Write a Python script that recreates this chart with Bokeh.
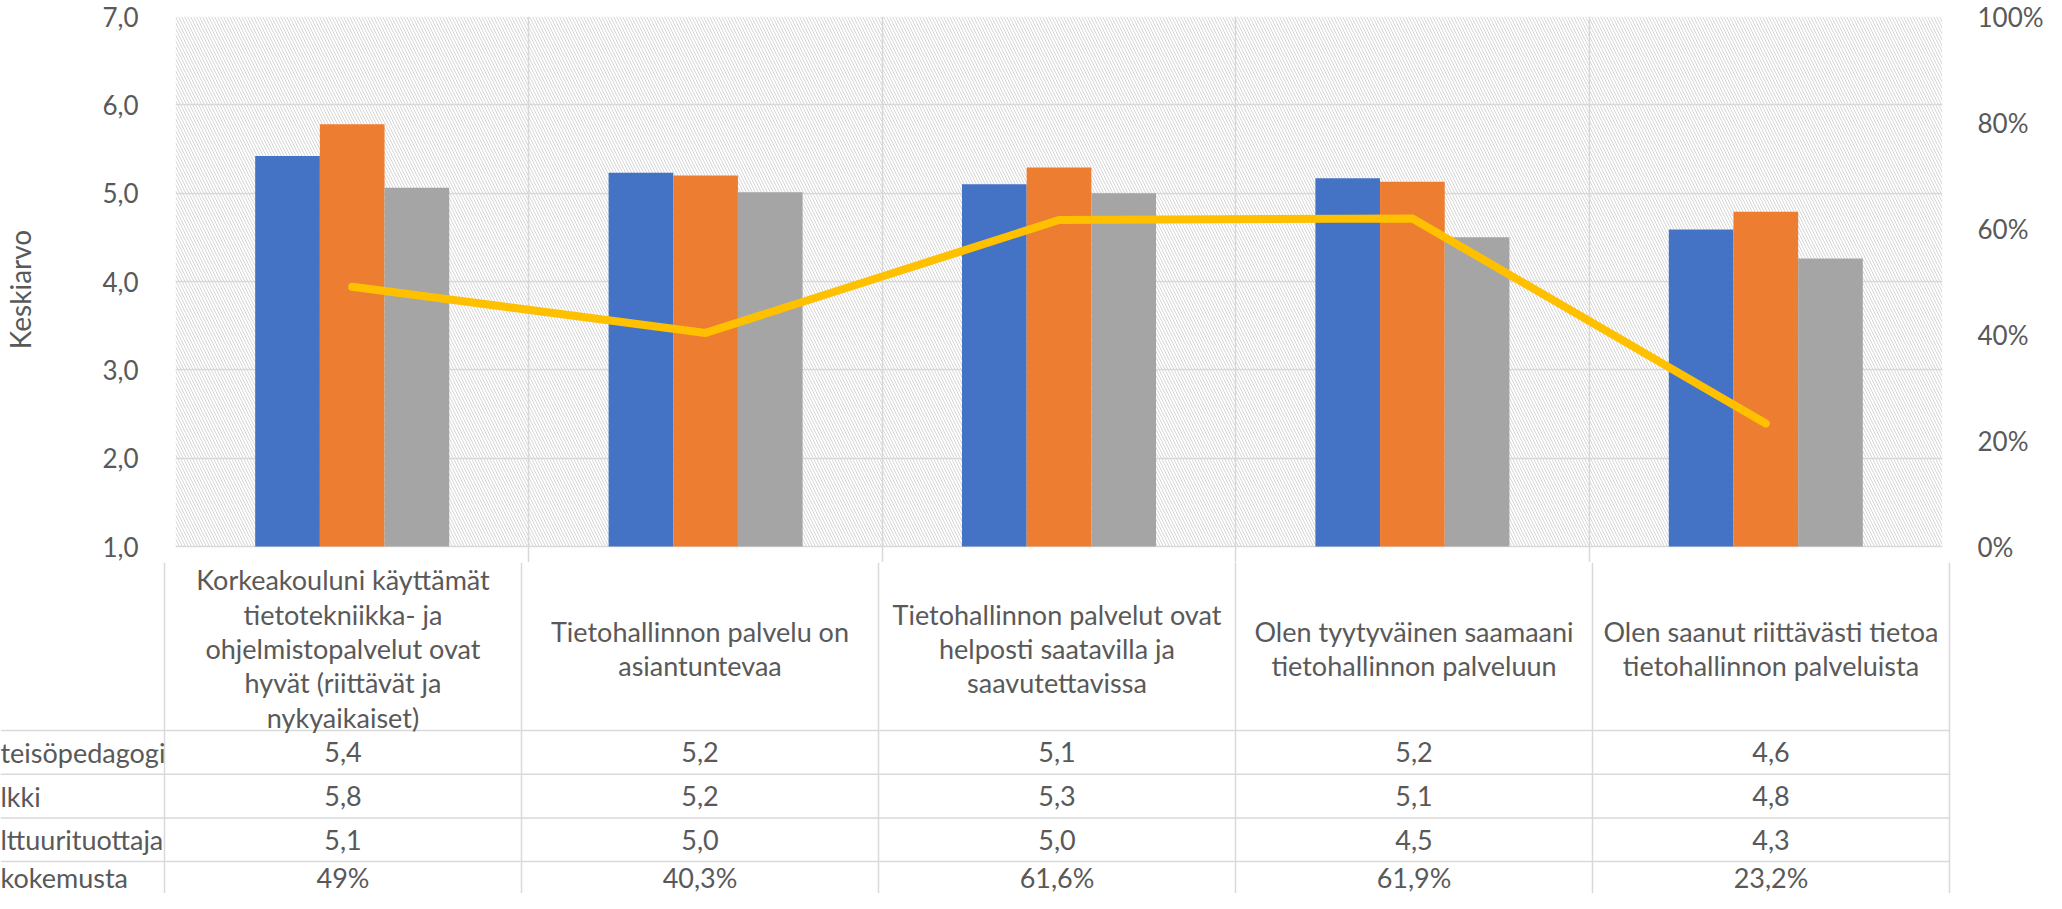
from bokeh.plotting import figure
from bokeh.models import Range1d, LinearAxis, FixedTicker, CustomJSTickFormatter, ColumnDataSource
from bokeh.layouts import column
from bokeh.core.properties import value
from bokeh.embed import file_html
from bokeh.resources import INLINE

# ---------------- data ----------------
categories = [
    "Korkeakouluni käyttämät\ntietotekniikka- ja\nohjelmistopalvelut ovat\nhyvät (riittävät ja\nnykyaikaiset)",
    "Tietohallinnon palvelu on\nasiantuntevaa",
    "Tietohallinnon palvelut ovat\nhelposti saatavilla ja\nsaavutettavissa",
    "Olen tyytyväinen saamaani\ntietohallinnon palveluun",
    "Olen saanut riittävästi tietoa\ntietohallinnon palveluista",
]
row_labels = ["teisöpedagogi", "lkki", "lttuurituottaja", "kokemusta"]
series1 = [5.42, 5.23, 5.10, 5.17, 4.59]
series2 = [5.78, 5.20, 5.29, 5.13, 4.79]
series3 = [5.06, 5.01, 5.00, 4.50, 4.26]
share = [0.49, 0.403, 0.616, 0.619, 0.232]
left_ticks = [1, 2, 3, 4, 5, 6, 7]
right_ticks = [0, 0.2, 0.4, 0.6, 0.8, 1.0]

colors = ["#4472C4", "#ED7D31", "#A5A5A5"]
line_color = "#FFC000"
grid_color = "#D9D9D9"
text_color = "#595959"
FONT = "Lato"

# ---------------- layout constants (px) ----------------
W = 2046
FRAME_L, FRAME_R = 164, 97
TOP_B = 16
PLOT_H = 530                    # height of the 1..7 value area
BAND = 16                       # strip below the 1,0 line kept in the top figure
TOP_H = TOP_B + PLOT_H + BAND
TABLE_H = 893 - TOP_H
HEADER_H = 184
ROW_H = 43.7

n = len(categories)
frame_w = W - FRAME_L - FRAME_R
ppu_x = frame_w / n
ppu_y = PLOT_H / (left_ticks[-1] - left_ticks[0])

def fmt1(v):
    return f"{v:.1f}".replace(".", ",")

def fmtp(v):
    p = round(v * 100, 1)
    if abs(p - round(p)) < 1e-9:
        return f"{int(round(p))}%"
    return f"{p:.1f}".replace(".", ",") + "%"

# ---------------- top chart ----------------
p = figure(width=W, height=TOP_H, output_backend="svg", toolbar_location=None,
           x_axis_location=None, frame_align=False,
           x_range=Range1d(0, n),
           y_range=Range1d(left_ticks[0] - BAND / ppu_y, left_ticks[-1]),
           min_border_left=FRAME_L, min_border_right=FRAME_R,
           min_border_top=TOP_B, min_border_bottom=0)
p.outline_line_color = None
p.background_fill_color = "white"
p.border_fill_color = "white"
p.extra_y_ranges = {"pct": Range1d(-BAND / PLOT_H, 1.0)}

p.quad(left=[0], right=[n], bottom=[left_ticks[0]], top=[left_ticks[-1]],
       fill_color=None, line_color=None,
       hatch_pattern="left_diagonal_line", hatch_color="#D6D6D6",
       hatch_scale=6, hatch_weight=1)

p.ygrid.ticker = FixedTicker(ticks=left_ticks)
p.ygrid.grid_line_color = grid_color
p.ygrid.grid_line_width = 1.5
p.xgrid.ticker = FixedTicker(ticks=list(range(n + 1)))
p.xgrid.grid_line_color = grid_color
p.xgrid.grid_line_width = 1.5

bw = 0.183
offsets = [-bw, 0.0, bw]
for vals, off, c in zip([series1, series2, series3], offsets, colors):
    src = ColumnDataSource(dict(x=[i + 0.5 + off for i in range(n)], top=vals))
    p.vbar(x="x", top="top", bottom=left_ticks[0], width=bw, source=src,
           fill_color=c, line_color=None)

p.line(x=[i + 0.5 for i in range(n)], y=share, y_range_name="pct",
       line_color=line_color, line_width=8, line_cap="round", line_join="round")

ya = p.yaxis[0]
ya.ticker = FixedTicker(ticks=left_ticks)
ya.formatter = CustomJSTickFormatter(code="return tick.toFixed(1).replace('.', ',');")
ya.axis_line_color = None
ya.major_tick_line_color = None
ya.minor_tick_line_color = None
ya.major_label_standoff = 31
ya.major_label_text_font = FONT
ya.major_label_text_font_size = "26px"
ya.major_label_text_color = text_color
ya.axis_label = "Keskiarvo"
ya.axis_label_text_font = FONT
ya.axis_label_text_font_size = "28px"
ya.axis_label_text_font_style = "normal"
ya.axis_label_text_color = text_color
ya.axis_label_standoff = 62

ra = LinearAxis(y_range_name="pct")
ra.ticker = FixedTicker(ticks=right_ticks)
ra.formatter = CustomJSTickFormatter(code="return Math.round(tick*100) + '%';")
ra.axis_line_color = None
ra.major_tick_line_color = None
ra.minor_tick_line_color = None
ra.major_label_standoff = 29
ra.major_label_text_font = FONT
ra.major_label_text_font_size = "26px"
ra.major_label_text_color = text_color
p.add_layout(ra, "right")

# ---------------- data table ----------------
x0 = -FRAME_L / ppu_x
x1 = n + FRAME_R / ppu_x
t = figure(width=W, height=TABLE_H, output_backend="svg", toolbar_location=None,
           x_axis_location=None, y_axis_location=None, frame_align=False,
           x_range=Range1d(x0, x1),
           y_range=Range1d(BAND + TABLE_H, BAND),   # px below the 1,0 line, downward
           min_border_left=0, min_border_right=0, min_border_top=0, min_border_bottom=0)
t.outline_line_color = None
t.background_fill_color = "white"
t.border_fill_color = "white"
t.ygrid.grid_line_color = None
t.xgrid.ticker = FixedTicker(ticks=list(range(n + 1)))
t.xgrid.grid_line_color = grid_color
t.xgrid.grid_line_width = 1.5

row_tops = [HEADER_H + k * ROW_H for k in range(len(row_labels))]
t.segment(x0=[x0] * len(row_tops), x1=[n] * len(row_tops), y0=row_tops, y1=row_tops,
          line_color=grid_color, line_width=1.5)

t.text(x=[i + 0.5 for i in range(n)], y=[HEADER_H / 2 + 10] * n, text=categories,
       text_align="center", text_baseline="middle", text_font=value(FONT),
       text_font_size="27px", text_color=text_color, text_line_height=1.04)

bottom = BAND + TABLE_H
rows = [[fmt1(v) for v in series1], [fmt1(v) for v in series2],
        [fmt1(v) for v in series3], [fmtp(v) for v in share]]
for k, (lab, vals) in enumerate(zip(row_labels, rows)):
    top_k = row_tops[k]
    yc = min(top_k + ROW_H / 2, (top_k + bottom) / 2)
    t.text(x=[x0], y=[yc], text=[lab], text_align="left", text_baseline="middle",
           text_font=value(FONT), text_font_size="27px", text_color=text_color)
    t.text(x=[i + 0.5 for i in range(n)], y=[yc] * n, text=vals,
           text_align="center", text_baseline="middle", text_font=value(FONT),
           text_font_size="27px", text_color=text_color)

layout = column(p, t, spacing=0)
open("out.html", "w").write(file_html(layout, INLINE))
